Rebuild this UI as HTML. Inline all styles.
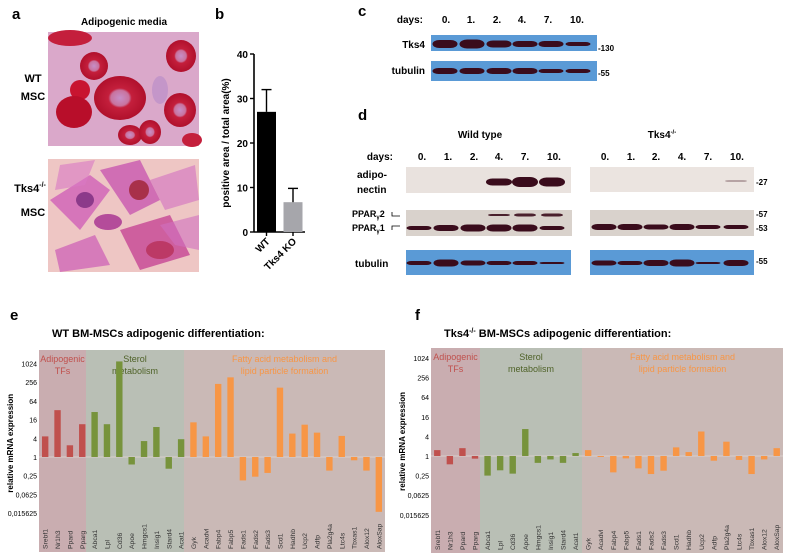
<!DOCTYPE html>
<html><head><meta charset="utf-8">
<style>
html,body{margin:0;padding:0;background:#fff;}
body{width:787px;height:555px;overflow:hidden;font-family:"Liberation Sans",sans-serif;}
svg text{font-family:"Liberation Sans",sans-serif;}
</style></head>
<body>
<svg id="fig" width="787" height="555" viewBox="0 0 787 555" xmlns="http://www.w3.org/2000/svg">
<defs>
<radialGradient id="cellR" cx="50%" cy="50%" r="50%"><stop offset="0" stop-color="#c78fc8"/><stop offset="0.35" stop-color="#c8739e"/><stop offset="0.45" stop-color="#c41f3c"/><stop offset="1" stop-color="#b0102c"/></radialGradient>
</defs>

<!-- panel a -->
<g>
<text x="12" y="19" font-size="15" font-weight="bold">a</text>
<text x="124" y="25" font-size="10" font-weight="bold" text-anchor="middle">Adipogenic media</text>
<text x="33" y="82" font-size="11" font-weight="bold" text-anchor="middle">WT</text>
<text x="33" y="100" font-size="11" font-weight="bold" text-anchor="middle">MSC</text>
<text x="30" y="192" font-size="11" font-weight="bold" text-anchor="middle">Tks4<tspan font-size="7" dy="-5">-/-</tspan></text>
<text x="33" y="216" font-size="11" font-weight="bold" text-anchor="middle">MSC</text>
<g>
<rect x="48" y="32" width="151" height="114" fill="#e3b2c6"/>
<rect x="48" y="32" width="151" height="114" fill="#c896d0" opacity="0.35"/>
<ellipse cx="70" cy="38" rx="22" ry="8" fill="#c41f3c"/>
<ellipse cx="94" cy="66" rx="14" ry="14" fill="url(#cellR)"/>
<ellipse cx="181" cy="56" rx="15" ry="16" fill="url(#cellR)"/>
<ellipse cx="120" cy="98" rx="26" ry="22" fill="url(#cellR)"/>
<ellipse cx="80" cy="90" rx="10" ry="10" fill="#c81430"/>
<ellipse cx="74" cy="112" rx="18" ry="16" fill="#b80e2a"/>
<ellipse cx="180" cy="110" rx="16" ry="17" fill="url(#cellR)"/>
<ellipse cx="130" cy="135" rx="12" ry="10" fill="url(#cellR)"/>
<ellipse cx="150" cy="132" rx="11" ry="12" fill="url(#cellR)"/>
<ellipse cx="192" cy="140" rx="10" ry="7" fill="#c41f3c"/>
<ellipse cx="160" cy="90" rx="8" ry="14" fill="#b68ac8" opacity="0.6"/>
</g>
<g>
<rect x="48" y="159" width="151" height="113" fill="#eec6c4"/>
<path d="M50 200 L90 175 L110 190 L80 230 Z" fill="#d060b8" opacity="0.8"/>
<path d="M100 170 L140 160 L160 200 L130 215 Z" fill="#c857b0" opacity="0.8"/>
<path d="M120 230 L170 215 L190 255 L140 270 Z" fill="#c84c98" opacity="0.85"/>
<path d="M55 250 L95 235 L110 265 L60 272 Z" fill="#d068b8" opacity="0.8"/>
<path d="M150 180 L195 165 L199 200 L165 210 Z" fill="#d67cc2" opacity="0.7"/>
<path d="M60 165 L95 160 L85 185 L55 190 Z" fill="#d878c4" opacity="0.6"/>
<path d="M160 225 L199 215 L199 250 L175 245 Z" fill="#d070c0" opacity="0.6"/>
<ellipse cx="139" cy="190" rx="10" ry="10" fill="#a8304a"/>
<ellipse cx="108" cy="222" rx="14" ry="8" fill="#b44c9a"/>
<ellipse cx="160" cy="250" rx="14" ry="9" fill="#b83058" opacity="0.8"/>
<ellipse cx="85" cy="200" rx="9" ry="8" fill="#8c3a8a"/>
</g>
</g>

<!-- panel b -->
<g id="panelB">
<text x="215" y="19" font-size="15" font-weight="bold">b</text>
<text transform="translate(229,143) rotate(-90)" font-size="10" font-weight="bold" text-anchor="middle">positive area / total area(%)</text>
</g>

<!-- panel c -->
<g>
<text x="358" y="16" font-size="15" font-weight="bold">c</text>
<text x="423" y="23" font-size="10" font-weight="bold" text-anchor="end">days:</text>
<g id="cDays" font-size="10" font-weight="bold" text-anchor="middle"></g>
<text x="425" y="48" font-size="10" font-weight="bold" text-anchor="end">Tks4</text>
<text x="425" y="74" font-size="10" font-weight="bold" text-anchor="end">tubulin</text>
<rect x="431" y="35" width="166" height="16" fill="#5a9ad6"/>
<rect x="431" y="61" width="166" height="20" fill="#5a9ad6"/>
<g id="cBands"></g>
<text x="598" y="51" font-size="8" font-weight="bold">-130</text>
<text x="598" y="76" font-size="8" font-weight="bold">-55</text>
</g>

<!-- panel d -->
<g>
<text x="358" y="120" font-size="15" font-weight="bold">d</text>
<text x="480" y="138" font-size="10" font-weight="bold" text-anchor="middle">Wild type</text>
<text x="662" y="138" font-size="10" font-weight="bold" text-anchor="middle">Tks4<tspan font-size="6" dy="-4">-/-</tspan></text>
<text x="393" y="160" font-size="10" font-weight="bold" text-anchor="end">days:</text>
<g id="dDays" font-size="10" font-weight="bold" text-anchor="middle"></g>
<text x="357" y="178" font-size="10" font-weight="bold">adipo-</text>
<text x="357" y="193" font-size="10" font-weight="bold">nectin</text>
<text x="352" y="217" font-size="9" font-weight="bold">PPAR<tspan font-size="6" dy="2">γ</tspan><tspan dy="-2">2</tspan></text>
<text x="352" y="231" font-size="9" font-weight="bold">PPAR<tspan font-size="6" dy="2">γ</tspan><tspan dy="-2">1</tspan></text>
<path d="M392 212 L392 216 L400 216 M392 230 L392 226 L400 226" stroke="#000" stroke-width="0.8" fill="none"/>
<text x="355" y="267" font-size="10" font-weight="bold">tubulin</text>
<rect x="406" y="167" width="165" height="26" fill="#e9e2de"/>
<rect x="590" y="167" width="164" height="25" fill="#ebe4e0"/>
<rect x="406" y="210" width="166" height="26" fill="#d9d2cc"/>
<rect x="590" y="210" width="164" height="26" fill="#d9d2cc"/>
<rect x="406" y="250" width="165" height="25" fill="#5a9ad6"/>
<rect x="590" y="250" width="164" height="25" fill="#5a9ad6"/>
<g id="dBands"></g>
<text x="756" y="185" font-size="8" font-weight="bold">-27</text>
<text x="756" y="217" font-size="8" font-weight="bold">-57</text>
<text x="756" y="231" font-size="8" font-weight="bold">-53</text>
<text x="756" y="264" font-size="8" font-weight="bold">-55</text>
</g>

<!-- panels e,f -->
<text x="10" y="320" font-size="15" font-weight="bold">e</text>
<text x="52" y="337" font-size="11" font-weight="bold">WT BM-MSCs adipogenic differentiation:</text>
<text x="415" y="320" font-size="15" font-weight="bold">f</text>
<text x="444" y="337" font-size="11" font-weight="bold">Tks4<tspan font-size="7" dy="-4">-/-</tspan><tspan dy="4"> BM-MSCs adipogenic differentiation:</tspan></text>
<g id="chartE"></g>
<g id="chartF"></g>
</svg>

<script>
// panel b data
const bCategories = ["WT", "Tks4 KO"];
const bValues = [27, 6.7];
const bErrors = [32, 9.8];
const bTicks = [0, 10, 20, 30, 40];

// panels e/f data (log2 fold change)
const genes = ["Srebf1","Nr1h3","Ppard","Pparg","Abca1","Lpl","Cd36","Apoe","Hmgcs1","Insig1","Stard4","Acat1","Gyk","Acadvl","Fabp4","Fabp5","Fads1","Fads2","Fads3","Scd1","Hadhb","Ucp2","Adfp","Pla2g4a","Ltc4s","Tbxas1","Alox12","AloxSap"];
const geneGroups = [0,0,0,0,1,1,1,1,1,1,1,1,2,2,2,2,2,2,2,2,2,2,2,2,2,2,2,2];
const wtLog2 = [2.2,5.0,1.25,3.5,4.8,3.5,10.2,-0.8,1.7,3.2,-1.25,1.9,3.7,2.2,7.8,8.5,-2.5,-2.1,-1.7,7.4,2.5,3.45,2.6,-1.45,2.25,-0.35,-1.45,-5.85];
const koLog2 = [0.6,-0.85,0.8,-0.27,-2.0,-1.46,-1.8,2.75,-0.7,-0.35,-0.7,0.3,0.6,-0.1,-1.67,-0.24,-1.26,-1.84,-1.5,0.88,0.4,2.5,-0.48,1.46,-0.4,-1.84,-0.35,0.8];
const yTickLog2 = [10,8,6,4,2,0,-2,-4,-6];
const yTickLabels = ["1024","256","64","16","4","1","0,25","0,0625","0,015625"];
const dayLabels = ["0.","1.","2.","4.","7.","10."];

const NS = "http://www.w3.org/2000/svg";
function mk(tag, attrs, parent, txt){
  const e = document.createElementNS(NS, tag);
  for (const k in attrs) e.setAttribute(k, attrs[k]);
  if (txt !== undefined) e.textContent = txt;
  parent.appendChild(e);
  return e;
}

// ----- panel b -----
(function(){
  const g = document.getElementById("panelB");
  const x0 = 254, yBase = 232, yTop = 54, vMax = 40;
  const y = v => yBase - (v / vMax) * (yBase - yTop);
  mk("line", {x1:x0,y1:yTop,x2:x0,y2:yBase,stroke:"#000","stroke-width":1.6}, g);
  mk("line", {x1:x0,y1:yBase,x2:305,y2:yBase,stroke:"#000","stroke-width":1.6}, g);
  bTicks.forEach(t => {
    mk("line", {x1:x0-4,y1:y(t),x2:x0,y2:y(t),stroke:"#000","stroke-width":1.4}, g);
    const tl = mk("text", {x:x0-6,y:y(t)+4,"font-size":10,"font-weight":"bold","text-anchor":"end"}, g, String(t));
    
    
  });
  const cx = [266.5, 293];
  const colors = ["#000", "#a6a6ab"];
  bCategories.forEach((c, i) => {
    const bar = mk("rect", {x:cx[i]-9.5,y:y(bValues[i]),width:19,height:yBase-y(bValues[i]),fill:colors[i]}, g);
    
    
    mk("line", {x1:cx[i],y1:y(bValues[i]),x2:cx[i],y2:y(bErrors[i]),stroke:"#000","stroke-width":1.4}, g);
    mk("line", {x1:cx[i]-5,y1:y(bErrors[i]),x2:cx[i]+5,y2:y(bErrors[i]),stroke:"#000","stroke-width":1.4}, g);
    mk("line", {x1:cx[i],y1:yBase,x2:cx[i],y2:yBase+4,stroke:"#000","stroke-width":1.4}, g);
    const lab = mk("text", {transform:`translate(${cx[i]+4},${yBase+10}) rotate(-45)`,"font-size":10,"font-weight":"bold","text-anchor":"end"}, g, c);
    
    
  });
})();

// ----- blots -----
function band(parent, cx, cy, w, h, op){
  mk("rect", {x:cx-w/2, y:cy-h/2, width:w, height:h, rx:Math.min(w/2,h/2+3), ry:h/2, fill:"#3a0c1c", opacity:op}, parent);
}
(function(){
  const dc = document.getElementById("cDays");
  const cX = [446,471,497,522,548,577];
  dayLabels.forEach((d,i)=>mk("text",{x:cX[i],y:23},dc,d));
  const cb = document.getElementById("cBands");
  const bandX = [445,472,499,525,551,578];
  const tksH = [8,9,7,6,6,4];
  const tubH = [6,6,6,6,4,4];
  bandX.forEach((x,i)=>{ band(cb,x,44,25,tksH[i],1); band(cb,x,71,25,tubH[i],1); });

  const dd = document.getElementById("dDays");
  const wX = [422,448,474,499,525,554], kX = [605,631,656,682,708,737];
  dayLabels.forEach((d,i)=>{ mk("text",{x:wX[i],y:160},dd,d); mk("text",{x:kX[i],y:160},dd,d); });
  const db = document.getElementById("dBands");
  const wb = [419,446,473,499,525,552], kb = [604,630,656,682,708,736];
  const adipoH = [0,0,0,7,10,9];
  adipoH.forEach((h,i)=>{ if(h) band(db,wb[i],182,26,h,1); });
  band(db,kb[5],181,22,2,0.3);
  const p2 = [0,0,0,2,3,3], p1 = [4,6,7,7,7,4];
  wb.forEach((x,i)=>{ if(p2[i]) band(db,x,215,22,p2[i],0.9); band(db,x,228,25,p1[i],1); });
  kb.forEach((x,i)=>band(db,x,227,25,[6,6,5,6,4,4][i],1));
  const wt = [4,7,5,4,4,2], kt = [5,4,6,7,2,6];
  wb.forEach((x,i)=>band(db,x,263,25,wt[i],1));
  kb.forEach((x,i)=>band(db,x,263,25,kt[i],1));
})();

// ----- panels e,f -----
function drawChart(id, vals, geo){
  const g = document.getElementById(id);
  const {left, right, top, bottom, y0, unit, split1, split2} = geo;
  const y = v => y0 - v * unit;
  const band = (right - left) / genes.length;
  const xc = i => left + (i + 0.5) * band;
  mk("rect",{x:left,y:top,width:split1-left,height:bottom-top,fill:"#c9adb0"},g);
  mk("rect",{x:split1,y:top,width:split2-split1,height:bottom-top,fill:"#b9bfb5"},g);
  mk("rect",{x:split2,y:top,width:right-split2,height:bottom-top,fill:"#cab9b6"},g);
  mk("text",{x:(left+split1)/2,y:top+12,"font-size":9,fill:"#c0504d","text-anchor":"middle"},g,"Adipogenic");
  mk("text",{x:(left+split1)/2,y:top+24,"font-size":9,fill:"#c0504d","text-anchor":"middle"},g,"TFs");
  mk("text",{x:(split1+split2)/2,y:top+12,"font-size":9,fill:"#4f6228","text-anchor":"middle"},g,"Sterol");
  mk("text",{x:(split1+split2)/2,y:top+24,"font-size":9,fill:"#4f6228","text-anchor":"middle"},g,"metabolism");
  mk("text",{x:(split2+right)/2,y:top+12,"font-size":9,fill:"#f79646","text-anchor":"middle"},g,"Fatty acid metabolism and");
  mk("text",{x:(split2+right)/2,y:top+24,"font-size":9,fill:"#f79646","text-anchor":"middle"},g,"lipid particle formation");
  yTickLog2.forEach((t,i)=>{
    const tl = mk("text",{x:left-2,y:y(t)+3,"font-size":7,"text-anchor":"end"},g,yTickLabels[i]);
    
    
  });
  const yt = mk("text",{transform:`translate(${left-26},${(y(10)+y(-6))/2+5}) rotate(-90)`,"font-size":8,"font-weight":"bold","text-anchor":"middle"},g,"relative mRNA expression");
  
  
  mk("line",{x1:left,y1:y0,x2:right,y2:y0,stroke:"#d9cfcc","stroke-width":1},g);
  const colors = ["#c0504d","#77933c","#f79646"];
  genes.forEach((name,i)=>{
    const v = vals[i];
    const b = mk("rect",{x:xc(i)-3.2,y:Math.min(y(v),y0),width:6.4,height:Math.abs(y(v)-y0),fill:colors[geneGroups[i]]},g);
    
    
    const lab = mk("text",{transform:`translate(${xc(i)+2.5},${bottom-3}) rotate(-90)`,"font-size":6.8,"fill":"#333"},g,name);
    
    
  });
}
drawChart("chartE", wtLog2, {left:39,right:385,top:350,bottom:552,y0:457,unit:9.37,split1:86,split2:184});
drawChart("chartF", koLog2, {left:431,right:783,top:348,bottom:553,y0:456,unit:9.8,split1:480,split2:582});
</script>
</body></html>
